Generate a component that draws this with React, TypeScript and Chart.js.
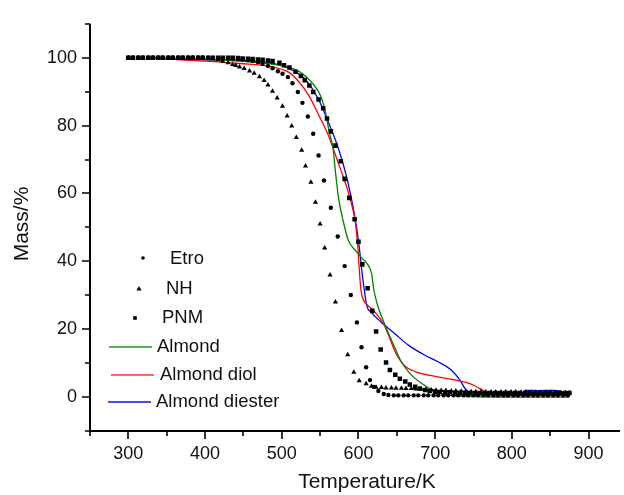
import React, { useEffect, useRef } from 'react';
import { Chart, registerables } from 'chart.js';

Chart.register(...registerables);

const FONT = '"Liberation Sans", Arial, Helvetica, sans-serif';

// Axis settings
const X_MIN = 250;
const X_MAX = 941;
const Y_MIN = -10;
const Y_MAX = 110;
const xMajorTicks = [300, 400, 500, 600, 700, 800, 900];
const xMinorTicks = [250, 350, 450, 550, 650, 750, 850, 950];
const yMajorTicks = [0, 20, 40, 60, 80, 100];
const yMinorTicks = [-10, 10, 30, 50, 70, 90, 110];

const xTitle = 'Temperature/K';
const yTitle = 'Mass/%';
const seriesNames = ['Etro', 'NH', 'PNM', 'Almond', 'Almond diol', 'Almond diester'];

// Etro (circles)
const etroT = [300, 306, 313, 319, 326, 332, 339, 345, 352, 358, 365, 371, 378, 384, 391, 397,
  404, 410, 417, 423, 430, 436, 443, 449, 456, 462, 469, 475, 482, 488, 495, 501, 508, 514,
  521, 527, 534, 541, 548, 555, 564, 573, 582, 590, 598, 604, 610, 615, 620, 626, 633, 639, 646, 652,
  659, 665, 672, 678, 685, 691, 698, 704, 711, 717, 724, 730, 737, 743, 750, 756, 763, 769, 776, 782,
  789, 795, 802, 808, 815, 821, 828, 834, 841, 847, 854, 860, 867, 873];
const etroM = [100, 100, 100, 100, 100, 100, 100, 100, 100, 100, 100, 100, 100, 100, 100, 100,
  99.9, 99.9, 99.9, 99.8, 99.8, 99.7, 99.6, 99.5, 99.3, 99.1, 98.7, 98.2, 97.6, 96.9, 96.0, 95.3, 94.3, 92.5,
  89.9, 86.7, 82.7, 77.6, 71.2, 63.8, 55.8, 47.3, 38.6, 30.1, 22.0, 14.7, 8.8, 5.0, 3.0, 1.8, 0.9, 0.6, 0.5, 0.5,
  0.5, 0.5, 0.5, 0.5, 0.5, 0.5, 0.5, 0.5, 0.5, 0.5, 0.5, 0.5, 0.5, 0.5, 0.5, 0.5, 0.5, 0.5, 0.5, 0.5,
  0.5, 0.5, 0.5, 0.5, 0.5, 0.5, 0.5, 0.5, 0.5, 0.5, 0.5, 0.5, 0.5, 0.5];

// NH (triangles)
const nhT = [300, 306, 313, 319, 326, 332, 339, 345, 352, 358, 365, 371, 378, 384, 391, 397,
  404, 410, 417, 423, 430, 436, 440, 445, 451, 458, 464, 471, 477, 482, 488, 494, 501, 507, 513, 519,
  526, 531, 538, 544, 550, 556, 563, 570, 578, 586, 594, 601, 610, 617, 623, 630, 636, 643, 649, 656,
  662, 669, 675, 682, 688, 695, 701, 708, 714, 721, 727, 734, 740, 747, 753, 760, 766, 773, 779, 786,
  792, 799, 805, 812, 818, 825, 831, 838, 844, 851, 857, 864, 870, 875];
const nhM = [100, 100, 100, 100, 100, 100, 100, 100, 100, 100, 100, 100, 100, 100, 100, 100,
  99.9, 99.7, 99.4, 99.0, 98.5, 98.0, 97.7, 97.3, 96.8, 96.1, 95.4, 94.4, 93.3, 92.0, 90.1, 88.1, 85.7, 82.8, 79.9, 76.5,
  72.7, 68.1, 63.3, 57.4, 51.0, 43.9, 36.0, 28.0, 19.6, 12.5, 7.3, 4.8, 3.9, 3.2, 2.9, 2.8, 2.7, 2.7, 2.6, 2.6,
  2.5, 2.5, 2.4, 2.3, 2.2, 2.1, 2.0, 1.9, 1.9, 1.8, 1.8, 1.7, 1.7, 1.6, 1.6, 1.6, 1.5, 1.5, 1.5, 1.5,
  1.5, 1.5, 1.5, 1.4, 1.4, 1.4, 1.4, 1.4, 1.4, 1.4, 1.3, 1.3, 1.3, 1.3];

// PNM (squares)
const pnmT = [300, 306, 313, 319, 326, 332, 339, 345, 352, 358, 365, 371, 378, 384, 391, 397,
  404, 410, 417, 423, 430, 436, 443, 449, 456, 462, 469, 475,
  482, 488, 497, 503, 510, 518, 525, 530, 536, 541, 548, 554, 559, 564, 570, 577, 582, 588, 595, 600,
  605, 612, 618, 623, 629, 636, 641, 648, 654, 661, 667, 674, 680, 687, 693, 700, 706, 713, 719, 726,
  732, 739, 745, 752, 758, 765, 771, 778, 784, 791, 797, 804, 810, 817, 823, 830, 836, 843, 849, 856, 862, 869, 875];
const pnmM = [100, 100, 100, 100, 100, 100, 100, 100, 100, 100, 100, 100, 100, 100, 100, 100,
  100, 100, 100, 100, 100, 100, 99.9, 99.8, 99.7, 99.6, 99.5, 99.4,
  99.2, 99.0, 98.5, 97.8, 97.1, 95.9, 94.6, 93.4, 91.8, 89.9, 87.7, 85.1, 82.1, 78.3, 74.1, 69.5, 64.3, 58.7, 52.4, 45.8,
  39.1, 32.1, 25.4, 19.3, 14.0, 10.2, 8.0, 6.6, 5.4, 4.6, 3.7, 3.0, 2.5, 2.1, 1.8, 1.6, 1.5, 1.4, 1.4, 1.3,
  1.3, 1.3, 1.2, 1.2, 1.2, 1.2, 1.2, 1.2, 1.2, 1.2, 1.2, 1.2, 1.2, 1.2, 1.2, 1.2, 1.2, 1.2, 1.2, 1.2, 1.2, 1.2, 1.2];

// Almond (green line)
const almondT = [331, 350, 400, 445, 497, 523, 540, 551, 557, 562, 567, 570, 574, 581, 587, 596, 605, 611, 617, 620,
  624, 635, 646, 656, 667, 682, 700, 712, 730, 760, 800, 875];
const almondM = [100, 99.8, 99.5, 99.0, 97.8, 95.9, 92.5, 88.6, 84.0, 78.0, 73.2, 66.4, 58.7, 51.0, 46.1, 43.2, 40.8, 39.4, 36.5, 31.7,
  27.8, 21.0, 15.3, 10.4, 7.0, 4.1, 1.7, 0.8, 0.3, 0.1, 0.0, 0.0];

// Almond diol (red line)
const diolT = [332, 360, 400, 445, 488, 510, 522, 535, 548, 561, 574, 580, 587, 594, 596, 599, 601, 603, 605, 611,
  620, 633, 641, 648, 659, 674, 700, 725, 740, 751, 762, 773, 790, 875];
const diolM = [100, 99.5, 99.0, 98.3, 97.3, 95.6, 93.0, 89.0, 83.2, 77.0, 68.8, 65.0, 60.2, 54.0, 51.5, 45.0, 38.0, 32.0, 29.5, 27.3,
  25.4, 21.5, 17.2, 13.3, 9.5, 7.5, 6.1, 5.1, 4.3, 3.4, 2.0, 0.7, 0.4, 0.4];

// Almond diester (blue line)
const diesterT = [331, 360, 400, 445, 488, 510, 527, 538, 548, 559, 574, 585, 594, 600, 603, 605, 607, 611, 617, 630,
  648, 665, 686, 704, 721, 732, 740, 747, 760, 800, 814, 818, 835, 855, 862, 866, 875];
const diesterM = [100, 99.6, 99.4, 99.2, 98.3, 96.8, 94.4, 91.5, 87.7, 82.0, 73.2, 64.5, 54.8, 46.1, 40.3, 36.0, 32.6, 26.8, 24.9, 22.0,
  18.6, 15.3, 12.4, 10.4, 8.0, 5.1, 2.2, 1.5, 1.2, 1.2, 1.3, 2.0, 1.9, 2.0, 1.8, 1.4, 1.2];

function zip(t: number[], m: number[]) {
  const n = Math.min(t.length, m.length);
  const out: { x: number; y: number }[] = [];
  for (let i = 0; i < n; i++) out.push({ x: t[i], y: m[i] });
  return out;
}

function drawMarker(ctx: CanvasRenderingContext2D, style: string, x: number, y: number, r: number) {
  ctx.beginPath();
  if (style === 'circle') {
    ctx.arc(x, y, r, 0, Math.PI * 2);
  } else if (style === 'triangle') {
    ctx.moveTo(x, y - r);
    ctx.lineTo(x + r * 0.866, y + r * 0.5);
    ctx.lineTo(x - r * 0.866, y + r * 0.5);
    ctx.closePath();
  } else {
    ctx.rect(x - r, y - r, 2 * r, 2 * r);
  }
  ctx.fill();
}

const axesPlugin = {
  id: 'originAxes',
  afterDraw(chart: any) {
    const { ctx, chartArea } = chart;
    const { left, right, top, bottom } = chartArea;
    const xs = chart.scales.x;
    const ys = chart.scales.y;
    ctx.save();
    ctx.strokeStyle = '#000';
    ctx.lineWidth = 2;
    ctx.beginPath();
    ctx.moveTo(left, top);
    ctx.lineTo(left, bottom + 1);
    ctx.moveTo(left - 1, bottom);
    ctx.lineTo(right, bottom);
    ctx.stroke();
    ctx.lineWidth = 1.6;
    ctx.beginPath();
    xMajorTicks.forEach((v) => {
      const p = Math.round(xs.getPixelForValue(v));
      ctx.moveTo(p, bottom);
      ctx.lineTo(p, bottom + 8);
    });
    xMinorTicks.forEach((v) => {
      const p = Math.round(xs.getPixelForValue(v));
      ctx.moveTo(p, bottom);
      ctx.lineTo(p, bottom + 5);
    });
    yMajorTicks.forEach((v) => {
      const p = Math.round(ys.getPixelForValue(v));
      ctx.moveTo(left, p);
      ctx.lineTo(left - 8, p);
    });
    yMinorTicks.forEach((v) => {
      const p = Math.round(ys.getPixelForValue(v));
      ctx.moveTo(left, p);
      ctx.lineTo(left - 5, p);
    });
    ctx.stroke();

    // axis titles
    ctx.fillStyle = '#111';
    ctx.font = `21px ${FONT}`;
    ctx.textAlign = 'center';
    ctx.textBaseline = 'middle';
    ctx.fillText(xTitle, 367, 482);
    ctx.translate(22, 224);
    ctx.rotate(-Math.PI / 2);
    ctx.fillText(yTitle, 0, 0);
    ctx.restore();
  },
};

const legendPlugin = {
  id: 'manualLegend',
  afterDraw(chart: any) {
    const ctx: CanvasRenderingContext2D = chart.ctx;
    ctx.save();
    ctx.fillStyle = '#000';
    drawMarker(ctx, 'circle', 143, 258, 1.8);
    drawMarker(ctx, 'triangle', 139, 289, 3);
    drawMarker(ctx, 'rect', 135, 318, 1.8);
    const lines = [
      { c: 'rgba(0,140,0,0.65)', x1: 109, x2: 152, y: 347 },
      { c: 'rgba(255,0,0,0.6)', x1: 111, x2: 154, y: 375 },
      { c: 'rgba(0,0,230,0.7)', x1: 108, x2: 151, y: 402 },
    ];
    lines.forEach((l) => {
      ctx.strokeStyle = l.c;
      ctx.lineWidth = 2;
      ctx.beginPath();
      ctx.moveTo(l.x1, l.y);
      ctx.lineTo(l.x2, l.y);
      ctx.stroke();
    });
    ctx.fillStyle = '#111';
    ctx.font = `18.5px ${FONT}`;
    ctx.textAlign = 'left';
    ctx.textBaseline = 'middle';
    const pos = [[170, 259], [166, 289], [162, 318], [157, 347], [160, 375], [156, 402]];
    seriesNames.forEach((name, i) => ctx.fillText(name, pos[i][0], pos[i][1]));
    ctx.restore();
  },
};

export default function App() {
  const ref = useRef<HTMLCanvasElement | null>(null);

  useEffect(() => {
    if (!ref.current) return;
    const scatterBase = {
      showLine: false,
      backgroundColor: '#000',
      borderColor: '#000',
      borderWidth: 0,
      order: 0,
    };
    const lineBase = {
      showLine: true,
      pointRadius: 0,
      borderWidth: 1.3,
      cubicInterpolationMode: 'monotone' as const,
      fill: false,
      order: 1,
    };
    const chart = new Chart(ref.current, {
      type: 'scatter',
      data: {
        datasets: [
          { ...scatterBase, label: seriesNames[0], data: zip(etroT, etroM), pointStyle: 'circle', pointRadius: 2.2 },
          { ...scatterBase, label: seriesNames[1], data: zip(nhT, nhM), pointStyle: 'triangle', pointRadius: 3 },
          { ...scatterBase, label: seriesNames[2], data: zip(pnmT, pnmM), pointStyle: 'rect', pointRadius: 3.2 },
          { ...lineBase, label: seriesNames[3], data: zip(almondT, almondM), borderColor: '#008000' },
          { ...lineBase, label: seriesNames[4], data: zip(diolT, diolM), borderColor: '#ff0000' },
          { ...lineBase, label: seriesNames[5], data: zip(diesterT, diesterM), borderColor: '#0000ff' },
        ] as any,
      },
      options: {
        responsive: false,
        animation: false,
        layout: { padding: { top: 15, right: 0, left: 0, bottom: 0 } },
        plugins: { legend: { display: false }, tooltip: { enabled: false } },
        scales: {
          x: {
            type: 'linear',
            min: X_MIN,
            max: X_MAX,
            afterBuildTicks: (s: any) => {
              s.ticks = xMajorTicks.map((v) => ({ value: v }));
            },
            afterFit: (s: any) => {
              s.height = 64;
            },
            grid: { display: false, drawTicks: false },
            border: { display: false },
            ticks: {
              font: { family: FONT, size: 18 },
              color: '#111',
              padding: 12,
              maxRotation: 0,
              autoSkip: false,
            },
          },
          y: {
            type: 'linear',
            min: Y_MIN,
            max: Y_MAX,
            afterBuildTicks: (s: any) => {
              s.ticks = yMajorTicks.map((v) => ({ value: v }));
            },
            afterFit: (s: any) => {
              s.width = 90;
            },
            grid: { display: false, drawTicks: false },
            border: { display: false },
            ticks: {
              font: { family: FONT, size: 18 },
              color: '#111',
              padding: 13,
              autoSkip: false,
            },
          },
        },
      },
      plugins: [axesPlugin, legendPlugin],
    });
    return () => chart.destroy();
  }, []);

  return (
    <div style={{ position: 'absolute', left: 0, top: 0, width: 624, height: 495, background: '#fff' }}>
      <canvas ref={ref} width={624} height={495} style={{ display: 'block', width: 624, height: 495 }} />
    </div>
  );
}
